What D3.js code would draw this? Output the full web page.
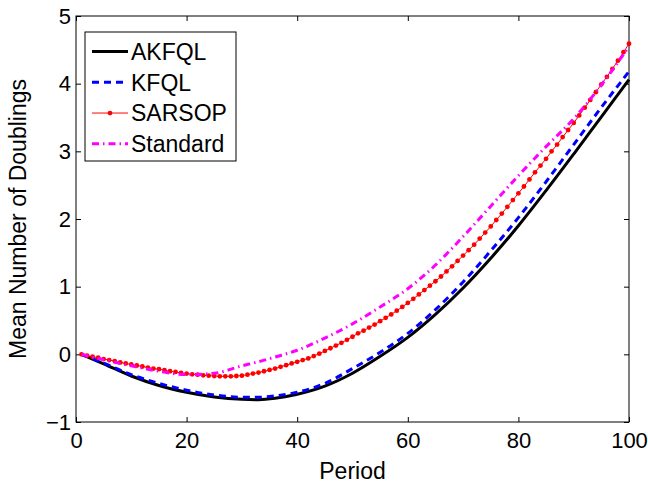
<!DOCTYPE html>
<html>
<head>
<meta charset="utf-8">
<script src="https://cdn.jsdelivr.net/npm/d3@7"></script>
<style>
  body { margin: 0; background: #fff; }
  text { font-family: "Liberation Sans", Arial, sans-serif; }
</style>
</head>
<body>
<div id="chart"></div>
<script>
const periods = [1, 5, 10, 15, 20, 25, 30, 33, 36, 40, 45, 50, 55, 60, 65, 70, 75, 80, 85, 90, 95, 100];

const akfql = [0, -0.14, -0.32, -0.46, -0.56, -0.63, -0.665, -0.67, -0.65, -0.59, -0.47, -0.28, -0.03, 0.25, 0.59, 0.98, 1.42, 1.90, 2.42, 2.96, 3.51, 4.06];
const kfql = [0, -0.13, -0.30, -0.43, -0.53, -0.60, -0.635, -0.635, -0.615, -0.56, -0.43, -0.21, 0.03, 0.31, 0.66, 1.07, 1.53, 2.02, 2.55, 3.10, 3.65, 4.18];
const standard = [0, -0.08, -0.17, -0.25, -0.30, -0.28, -0.17, -0.11, -0.04, 0.06, 0.24, 0.45, 0.70, 0.97, 1.32, 1.74, 2.19, 2.64, 3.07, 3.48, 3.98, 4.55];

// SARSOP has a marker at every period 1..100
const sarsopPeriods = d3.range(1, 101);
const sarsop = [
  0.00, -0.02, -0.035, -0.05, -0.07, -0.085, -0.10, -0.12, -0.135, -0.15,
  -0.165, -0.18, -0.195, -0.21, -0.22, -0.235, -0.25, -0.26, -0.275, -0.285,
  -0.295, -0.30, -0.31, -0.315, -0.32, -0.325, -0.325, -0.325, -0.32, -0.315,
  -0.30, -0.285, -0.27, -0.25, -0.23, -0.21, -0.185, -0.16, -0.135, -0.11,
  -0.085, -0.06, -0.025, 0.01, 0.05, 0.09, 0.13, 0.17, 0.215, 0.26,
  0.31, 0.35, 0.395, 0.44, 0.49, 0.54, 0.59, 0.645, 0.70, 0.76,
  0.82, 0.885, 0.95, 1.015, 1.08, 1.15, 1.225, 1.30, 1.38, 1.46,
  1.54, 1.62, 1.71, 1.80, 1.89, 1.985, 2.08, 2.18, 2.28, 2.38,
  2.48, 2.585, 2.69, 2.79, 2.89, 3.00, 3.10, 3.21, 3.315, 3.42,
  3.53, 3.645, 3.76, 3.875, 3.99, 4.10, 4.22, 4.34, 4.465, 4.59
];

const xTicks = [0, 20, 40, 60, 80, 100];
const yTicks = [-1, 0, 1, 2, 3, 4, 5];
const legendNames = ["AKFQL", "KFQL", "SARSOP", "Standard"];

const width = 648, height = 484;
const plotLeft = 76, plotRight = 629, plotTop = 16, plotBottom = 422;
const fontSize = 22;
const labelSize = 23;

const svg = d3.select("#chart")
    .append("svg")
    .attr("width", width)
    .attr("height", height);

svg.append("rect")
    .attr("width", width)
    .attr("height", height)
    .attr("fill", "#fff");

const x = d3.scaleLinear().domain([0, 100]).range([plotLeft, plotRight]);
const y = d3.scaleLinear().domain([-1, 5]).range([plotBottom, plotTop]);

const styles = {
  AKFQL: { color: "#000", width: 3, dash: null },
  KFQL: { color: "#0000ff", width: 3, dash: "7,5" },
  SARSOP: { color: "#ff0000", width: 1, dash: null },
  Standard: { color: "#ff00ff", width: 3, dash: "7,4,1.5,4" }
};

// axes (ticks point inward, box all round)
const fmt = d => d < 0 ? "\u2212" + Math.abs(d) : String(d);

svg.append("g")
    .attr("transform", `translate(0,${plotBottom})`)
    .call(d3.axisBottom(x).tickValues(xTicks).tickFormat(fmt).tickSizeInner(-5).tickSizeOuter(0).tickPadding(10))
    .call(g => g.select(".domain").remove())
    .call(g => g.selectAll("text").attr("font-size", fontSize).attr("font-family", "Liberation Sans, Arial, sans-serif").attr("fill", "#000"));

svg.append("g")
    .attr("transform", `translate(0,${plotTop})`)
    .call(d3.axisTop(x).tickValues(xTicks).tickFormat("").tickSizeInner(-5).tickSizeOuter(0))
    .call(g => g.select(".domain").remove());

svg.append("g")
    .attr("transform", `translate(${plotLeft},0)`)
    .call(d3.axisLeft(y).tickValues(yTicks).tickFormat(fmt).tickSizeInner(-5).tickSizeOuter(0).tickPadding(5))
    .call(g => g.select(".domain").remove())
    .call(g => g.selectAll("text").attr("font-size", fontSize).attr("font-family", "Liberation Sans, Arial, sans-serif").attr("fill", "#000"));

svg.append("g")
    .attr("transform", `translate(${plotRight},0)`)
    .call(d3.axisRight(y).tickValues(yTicks).tickFormat("").tickSizeInner(-5).tickSizeOuter(0))
    .call(g => g.select(".domain").remove());

svg.append("rect")
    .attr("x", plotLeft)
    .attr("y", plotTop)
    .attr("width", plotRight - plotLeft)
    .attr("height", plotBottom - plotTop)
    .attr("fill", "none")
    .attr("stroke", "#000")
    .attr("stroke-width", 1);

// curves
const smooth = d3.line().x(d => x(d[0])).y(d => y(d[1])).curve(d3.curveMonotoneX);
const straight = d3.line().x(d => x(d[0])).y(d => y(d[1]));

function drawCurve(name, xs, ys, gen) {
  const s = styles[name];
  svg.append("path")
      .datum(xs.map((p, i) => [p, ys[i]]))
      .attr("d", gen)
      .attr("fill", "none")
      .attr("stroke", s.color)
      .attr("stroke-width", s.width)
      .attr("stroke-dasharray", s.dash);
}

drawCurve("AKFQL", periods, akfql, smooth);
drawCurve("KFQL", periods, kfql, smooth);
drawCurve("SARSOP", sarsopPeriods, sarsop, straight);
svg.append("g")
    .selectAll("circle")
    .data(sarsopPeriods.map((p, i) => [p, sarsop[i]]))
    .enter()
    .append("circle")
    .attr("cx", d => x(d[0]))
    .attr("cy", d => y(d[1]))
    .attr("r", 2.4)
    .attr("fill", styles.SARSOP.color);
drawCurve("Standard", periods, standard, smooth);

// axis titles
svg.append("text")
    .attr("x", (plotLeft + plotRight) / 2)
    .attr("y", 479)
    .attr("text-anchor", "middle")
    .attr("font-size", labelSize)
    .text("Period");

svg.append("text")
    .attr("transform", `translate(26,${(plotTop + plotBottom) / 2}) rotate(-90)`)
    .attr("text-anchor", "middle")
    .attr("font-size", labelSize)
    .text("Mean Number of Doublings");

// legend
const legend = svg.append("g");
legend.append("rect")
    .attr("x", 85)
    .attr("y", 32)
    .attr("width", 151)
    .attr("height", 129)
    .attr("fill", "#fff")
    .attr("stroke", "#000")
    .attr("stroke-width", 1);

const rowY = d3.scalePoint().domain(legendNames).range([51.5, 143.8]);

legendNames.forEach(name => {
  const s = styles[name];
  const cy = rowY(name);
  legend.append("line")
      .attr("x1", 92).attr("x2", 128)
      .attr("y1", cy).attr("y2", cy)
      .attr("stroke", s.color)
      .attr("stroke-width", s.width)
      .attr("stroke-dasharray", s.dash);
  if (name === "SARSOP") {
    legend.append("circle")
        .attr("cx", 110).attr("cy", cy).attr("r", 2.4)
        .attr("fill", s.color);
  }
  legend.append("text")
      .attr("x", 131)
      .attr("y", cy)
      .attr("dy", "0.36em")
      .attr("font-size", labelSize)
      .text(name);
});
</script>
</body>
</html>
